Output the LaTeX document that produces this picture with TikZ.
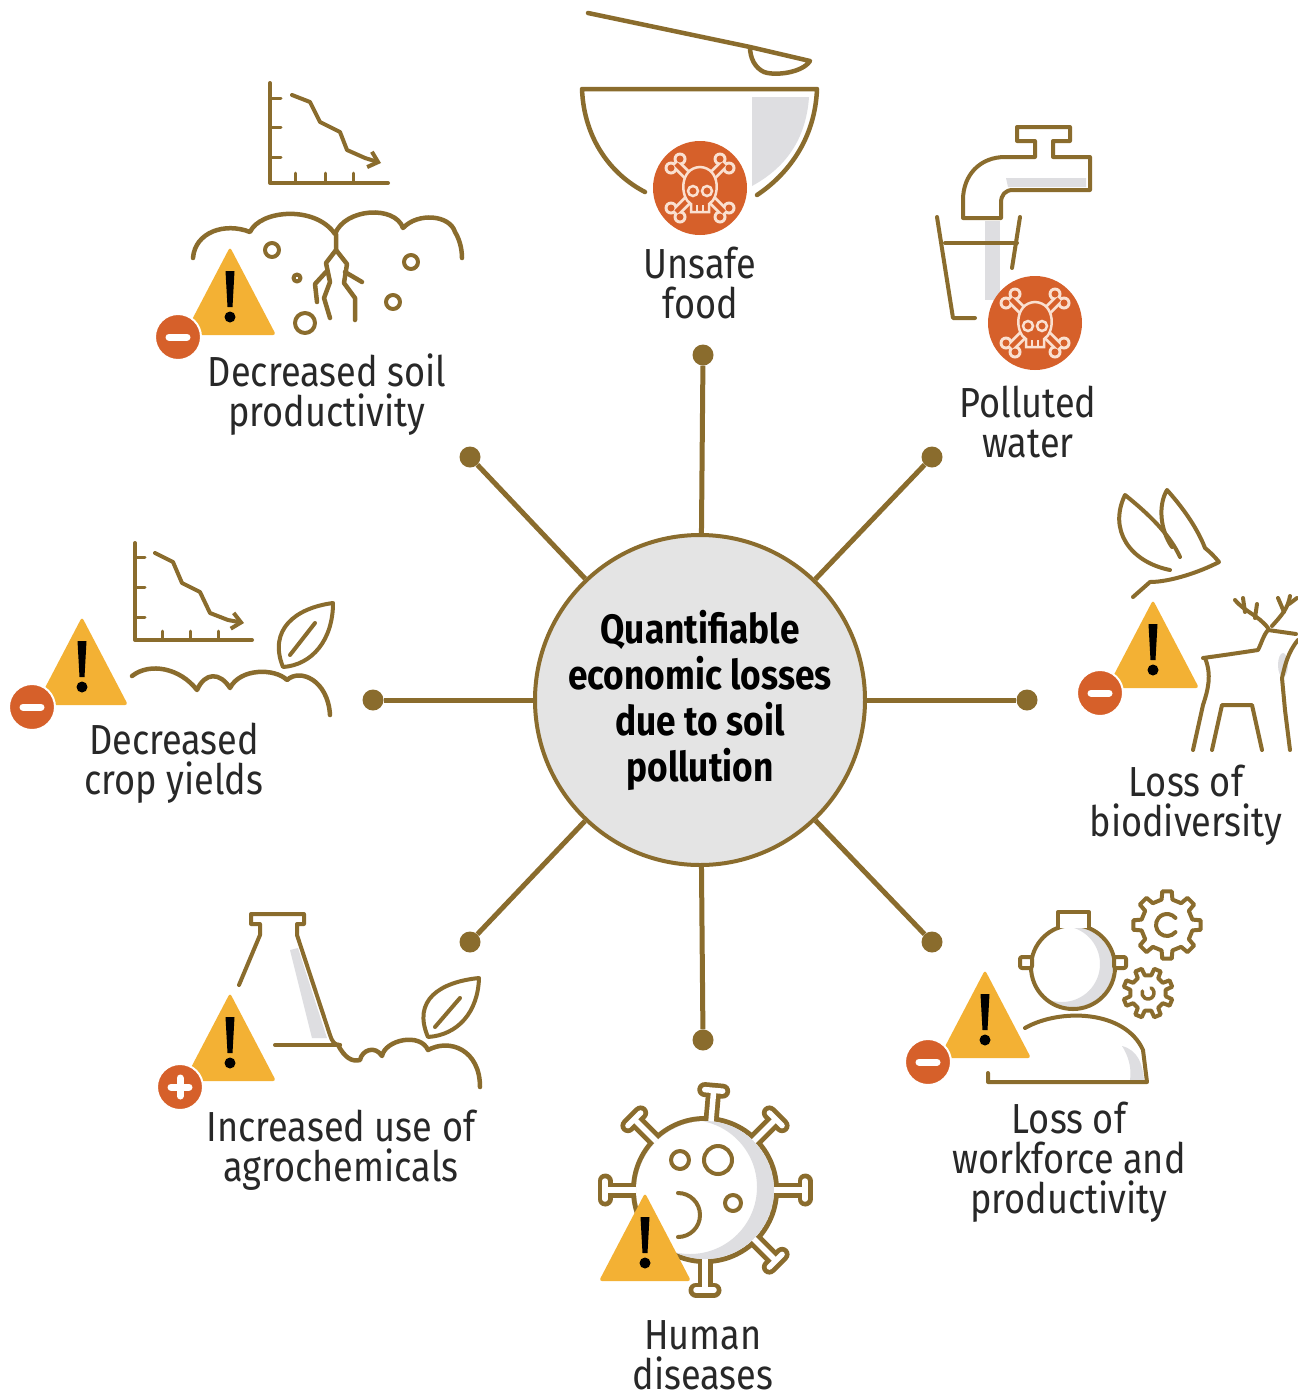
\documentclass[tikz,border=0pt]{standalone}
\usepackage{fontspec}
\setmainfont{Fira Sans}[FakeStretch=0.86]
\usetikzlibrary{arrows.meta}

\definecolor{soilbrown}{RGB}{138,108,45}
\definecolor{warnamber}{RGB}{243,177,52}
\definecolor{badgered}{RGB}{214,96,42}
\definecolor{bonepink}{RGB}{250,224,208}
\definecolor{hubgrey}{RGB}{228,228,228}
\definecolor{shadegrey}{RGB}{222,222,225}
\definecolor{inkgrey}{RGB}{40,40,40}

\begin{document}
\begin{tikzpicture}[x=1pt, y=-1pt,
  icon/.style={draw=soilbrown, line width=4.5, line cap=round, line join=round},
  spoke/.style={draw=soilbrown, line width=5},
  dot/.style={circle, fill=soilbrown, minimum size=21, inner sep=0},
  hub/.style={circle, fill=hubgrey, draw=soilbrown, line width=4, minimum size=330,
    inner sep=0, align=center, text=black, font=\fontsize{41}{46}\selectfont\bfseries},
  lbl/.style={align=center, text=inkgrey, inner sep=0, font=\fontsize{42}{40}\selectfont}]

% Warning sign, apex at (#1,#2)
\def\warnsign(#1,#2){%
  \begin{scope}[shift={(#1,#2)}]
    \fill[warnamber, rounded corners=3] (0,0) -- (46,88) -- (-46,88) -- cycle;
    \fill[black] (-4.5,24) -- (4.5,24) -- (2.5,60) -- (-2.5,60) -- cycle;
    \fill[black] (0,70) circle (5.5);
  \end{scope}}
% Round minus badge, #3 adds the plus stroke
\def\badge(#1,#2)#3{%
  \begin{scope}[shift={(#1,#2)}]
    \filldraw[fill=badgered, draw=white, line width=2] (0,0) circle (23);
    \draw[white, line width=7, line cap=round] (-9,0) -- (9,0);
    #3
  \end{scope}}
% Skull and crossbones disc
\def\skull(#1,#2){%
  \begin{scope}[shift={(#1,#2)}]
    \fill[badgered] (0,0) circle (47);
    \foreach \bw/\kr/\bc in {10/6.5/bonepink, 4.5/3.5/badgered}{
      \draw[\bc, line width=\bw] (-24,-24) -- (24,24) (24,-24) -- (-24,24);
      \fill[\bc] (-29,-20) circle (\kr) (-20,-29) circle (\kr) (29,20) circle (\kr)
        (20,29) circle (\kr) (29,-20) circle (\kr) (20,-29) circle (\kr)
        (-29,20) circle (\kr) (-20,29) circle (\kr);
    }
    \filldraw[fill=badgered, draw=bonepink, line width=2.5] (-9,24) -- (-9,16)
      .. controls (-20,10) and (-21,-20) .. (0,-21)
      .. controls (21,-20) and (20,10) .. (9,16) -- (9,24) -- cycle;
    \draw[bonepink, line width=2.5] (-7,3) circle (5) (7,3) circle (5);
    \draw[bonepink, line width=2] (-3,17) -- (-3,24) (3,17) -- (3,24);
  \end{scope}}

\fill[white] (0,0) rectangle (1298,1398);
\useasboundingbox (0,0) rectangle (1298,1398);

% Hub and spokes
\node[hub] (hub) at (700,700) {Quantifiable\\economic losses\\due to soil\\pollution};
\node[dot] (dfood) at (703,355) {};
\node[dot] (dwater) at (932,457) {};
\node[dot] (dbio) at (1027,700) {};
\node[dot] (dwork) at (932,942) {};
\node[dot] (dhealth) at (703,1040) {};
\node[dot] (dagro) at (470,942) {};
\node[dot] (dcrop) at (373,700) {};
\node[dot] (dsoil) at (470,457) {};
\foreach \d in {dfood,dwater,dbio,dwork,dhealth,dagro,dcrop,dsoil}
  \draw[spoke] (hub) -- (\d);

% Bowl and spoon
\fill[shadegrey] (752,97) -- (809,97) .. controls (806,140) and (785,168) .. (752,186) -- cycle;
\draw[icon] (588,13) -- (750,47) -- (810,61) .. controls (802,73) and (775,76) .. (764,72)
  .. controls (755,68) and (750,58) .. (750,47);
\draw[icon] (645,192) .. controls (612,175) and (584,140) .. (582,89) -- (817,89)
  .. controls (815,140) and (787,175) .. (757,195);
\skull(700,188)

% Tap and glass
\fill[shadegrey] (1006,178) -- (1086,178) -- (1086,187) -- (1008,187) -- cycle;
\fill[shadegrey] (985,221) rectangle (1000,300);
\draw[icon, line width=4] (1035,157) -- (1035,141) -- (1017,141) -- (1017,127) -- (1070,127)
  -- (1070,141) -- (1053,141) -- (1053,157) -- (1090,157) -- (1090,190) -- (1013,190)
  .. controls (1005,190) and (1001,195) .. (1001,203) -- (1001,218) -- (963,218) -- (963,200)
  .. controls (963,175) and (980,157) .. (1005,157) -- cycle;
\draw[icon, line width=4] (937,217) -- (953,318) -- (975,318);
\draw[icon, line width=4] (1020,217) -- (1012,268);
\draw[icon, line width=4] (945,243) -- (1017,243);
\skull(1035,323)

% Soil chart
\draw[icon, line width=4] (270,83) -- (270,183) -- (388,183);
\draw[icon, line width=3] (270,98) -- (281,98) (270,127) -- (281,127) (270,157) -- (281,157)
  (295,183) -- (295,173) (325,183) -- (325,173) (353,183) -- (353,173);
\draw[icon, line width=4, -{Straight Barb[length=9pt,width=16pt]}] (292,95) -- (310,102)
  -- (320,122) -- (340,132) -- (347,150) -- (365,158) -- (381,163);
% Soil with roots and stones
\draw[icon] (193,258) .. controls (195,232) and (225,222) .. (250,232)
  .. controls (260,210) and (315,205) .. (335,234)
  .. controls (345,208) and (395,205) .. (403,228)
  .. controls (418,212) and (450,215) .. (455,232) .. controls (460,240) and (462,250) .. (462,258);
\draw[icon] (336,234) -- (336,250) -- (326,263) -- (330,282) -- (324,298) -- (330,318);
\draw[icon] (336,250) -- (347,264) -- (344,283) -- (355,298) -- (355,320);
\draw[icon] (326,272) -- (315,284) -- (317,302);
\draw[icon] (345,272) -- (362,282);
\draw[icon, line width=4] (272,250) circle (7) (297,278) circle (3.5) (305,323) circle (10)
  (411,262) circle (7) (393,302) circle (7);
\warnsign(230,247)
\badge(178,337){}

% Crop chart
\draw[icon, line width=4] (135,543) -- (135,640) -- (252,640);
\draw[icon, line width=3] (135,557) -- (145,557) (135,587) -- (145,587) (135,617) -- (145,617)
  (162,640) -- (162,631) (190,640) -- (190,631) (218,640) -- (218,631);
\draw[icon, line width=4, -{Straight Barb[length=9pt,width=16pt]}] (155,553) -- (173,562)
  -- (182,583) -- (200,592) -- (210,613) -- (228,620) -- (244,623);
% Sprouting leaf
\draw[icon, line width=4] (283,667) .. controls (268,630) and (295,608) .. (333,603)
  .. controls (333,640) and (312,665) .. (283,667) -- cycle;
\draw[icon, line width=4] (290,655) -- (315,623);
\draw[icon] (132,676) .. controls (150,662) and (180,668) .. (197,690)
  .. controls (205,672) and (220,672) .. (230,688)
  .. controls (240,668) and (275,668) .. (287,680)
  .. controls (300,668) and (328,680) .. (330,715);
\warnsign(82,617)
\badge(32,707){}

% Dove
\draw[icon, line width=4] (1170,570) .. controls (1130,562) and (1108,530) .. (1125,495)
  .. controls (1150,515) and (1170,535) .. (1180,557);
\draw[icon, line width=4] (1172,547) .. controls (1160,530) and (1158,505) .. (1167,490)
  .. controls (1185,510) and (1198,530) .. (1205,548) .. controls (1210,552) and (1214,556) .. (1219,562)
  .. controls (1200,572) and (1170,582) .. (1150,582) -- (1133,597);
% Deer
\fill[shadegrey] (1283,665) ellipse (5 and 12);
\draw[icon, line width=4] (1203,658) .. controls (1225,655) and (1245,652) .. (1258,650)
  .. controls (1262,642) and (1263,636) .. (1268,630) -- (1296,634);
\draw[icon, line width=4] (1268,628) .. controls (1258,615) and (1245,612) .. (1235,600);
\draw[icon, line width=4] (1245,612) -- (1243,598) (1255,618) -- (1257,604);
\draw[icon, line width=4] (1272,626) .. controls (1282,615) and (1288,608) .. (1290,596);
\draw[icon, line width=4] (1284,612) -- (1278,598) (1289,604) -- (1297,598);
\draw[icon, line width=4] (1298,640) .. controls (1288,652) and (1285,665) .. (1282,678)
  -- (1285,710) -- (1290,750);
\draw[icon, line width=4] (1205,658) .. controls (1212,675) and (1208,690) .. (1203,705) -- (1193,750);
\draw[icon, line width=4] (1212,750) -- (1222,705) -- (1252,705) -- (1262,750);
\warnsign(1153,600)
\badge(1100,693){}

% Flask and leaf
\fill[shadegrey] (290,950) -- (298,948) -- (327,1038) -- (312,1038) -- cycle;
\draw[icon, line width=4] (239,985) -- (260,935) -- (260,924) -- (251,924) -- (251,914) -- (304,914)
  -- (304,924) -- (297,924) -- (297,935) -- (330,1035) .. controls (332,1041) and (334,1045) .. (340,1045);
\draw[icon, line width=4] (275,1045) -- (340,1045);
\draw[icon] (338,1045) .. controls (345,1058) and (352,1062) .. (360,1060)
  .. controls (362,1050) and (375,1045) .. (382,1056)
  .. controls (385,1040) and (420,1032) .. (428,1050)
  .. controls (450,1038) and (480,1050) .. (480,1087);
\draw[icon, line width=4] (428,1037) .. controls (412,1000) and (440,982) .. (479,978)
  .. controls (478,1012) and (458,1035) .. (428,1037) -- cycle;
\draw[icon, line width=4] (435,1027) -- (460,998);
\warnsign(230,993)
\badge(180,1087){\draw[white, line width=7, line cap=round] (0,-9) -- (0,9);}

% Virus
\begin{scope}[shift={(705,1190)}]
  \fill[soilbrown] (0,0) circle (74);
  \foreach \a in {-90,-45,0,45,85,135,180,225}{
    \begin{scope}[rotate=\a]
      \draw[soilbrown, line width=15] (65,0) -- (100,0);
      \draw[soilbrown, line width=15, line cap=round] (100,-9) -- (100,9);
    \end{scope}
  }
  \fill[white] (0,0) circle (69);
  \foreach \a in {-90,-45,0,45,85,135,180,225}{
    \begin{scope}[rotate=\a]
      \draw[white, line width=5.5] (60,0) -- (100,0);
      \draw[white, line width=5.5, line cap=round] (100,-9) -- (100,9);
    \end{scope}
  }
  \begin{scope}
    \clip (0,0) circle (69);
    \fill[shadegrey, even odd rule] (0,0) circle (69) (-15,-3) circle (67);
  \end{scope}
  \draw[icon, line width=4] (-25,-30) circle (9) (13,-30) circle (14) (28,13) circle (8);
  \draw[icon, line width=4] (-27,3) arc[start angle=-90, end angle=90, radius=22];
\end{scope}
\warnsign(645,1193)

% Worker and gears
\begin{scope}
  \clip (1073,967) circle (40);
  \fill[shadegrey, even odd rule] (1073,967) circle (40) (1062,964) circle (38);
\end{scope}
\fill[shadegrey] (1122,1046) .. controls (1138,1050) and (1143,1065) .. (1144,1080) -- (1130,1080)
  .. controls (1132,1068) and (1128,1055) .. (1122,1046);
\draw[icon, line width=4] (1073,967) circle (42);
\filldraw[icon, line width=4, fill=white] (1058,928) -- (1058,912) -- (1089,912) -- (1089,928);
\filldraw[icon, line width=4, fill=white, rounded corners=2] (1020,957) rectangle (1032,968)
  (1114,957) rectangle (1126,968);
\draw[icon, line width=4] (1025,1028) .. controls (1060,1008) and (1125,1010) .. (1143,1050)
  -- (1147,1082) -- (988,1082) -- (988,1073);
\draw[icon, line width=4, shift={(1167,925)}] (-12:26)
  \foreach \a in {0,45,...,315}{ -- (\a-12:26) -- (\a-8:34) -- (\a+8:34) -- (\a+12:26) } -- cycle;
\draw[icon, line width=4, shift={(1167,925)}] (40:11) arc[start angle=40, end angle=320, radius=11];
\draw[icon, line width=4, shift={(1148,993)}] (10:18)
  \foreach \a in {22.5,67.5,...,337.5}{ -- (\a-12:18) -- (\a-8:25) -- (\a+8:25) -- (\a+12:18) } -- cycle;
\draw[icon, line width=3.5, shift={(1148,993)}] (-60:6) arc[start angle=-60, end angle=200, radius=6];
\warnsign(985,970)
\badge(928,1062){}

% Labels
\node[lbl] (food) at (700,283) {Unsafe\\food};
\node[lbl] (water) at (1028,422) {Polluted\\water};
\node[lbl] (bio) at (1186,805) {Loss of\\biodiversity};
\node[lbl] (work) at (1069,1162) {Loss of\\workforce and\\productivity};
\node[lbl] (health) at (703,1355) {Human\\diseases};
\node[lbl] (agro) at (341,1150) {Increased use of\\agrochemicals};
\node[lbl] (crop) at (174,763) {Decreased\\crop yields};
\node[lbl] (soil) at (327,395) {Decreased soil\\productivity};
\end{tikzpicture}
\end{document}
